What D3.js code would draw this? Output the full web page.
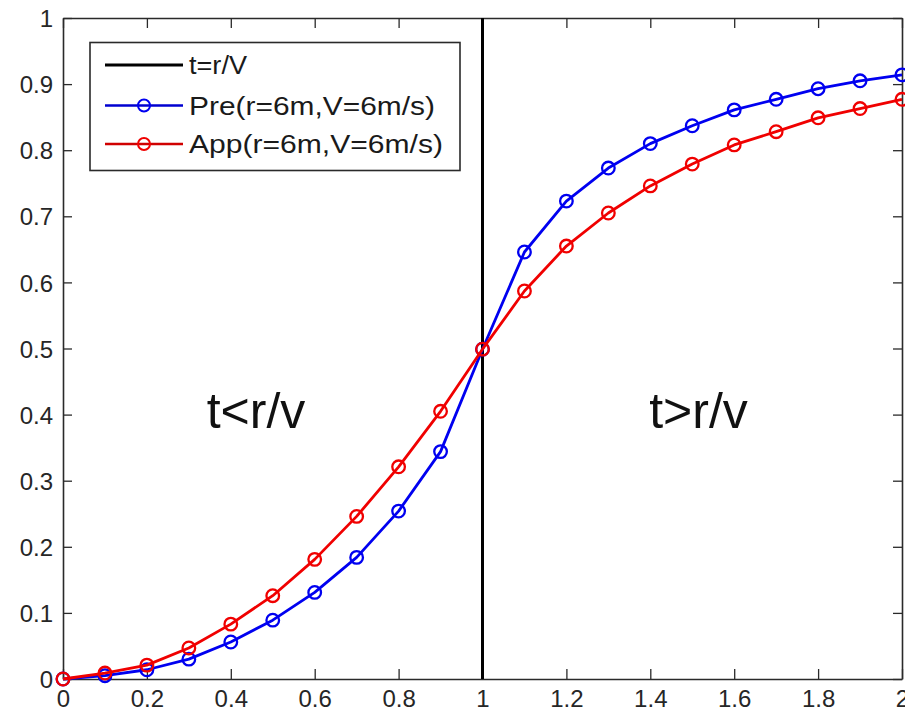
<!DOCTYPE html>
<html><head><meta charset="utf-8">
<script src="https://cdn.jsdelivr.net/npm/d3@7"></script>
<style>body{margin:0;background:#fff}svg{display:block}</style>
</head><body>
<svg id="c" width="905" height="714"></svg>
<script>
const tValues = [0,0.1,0.2,0.3,0.4,0.5,0.6,0.7,0.8,0.9,1.0,1.1,1.2,1.3,1.4,1.5,1.6,1.7,1.8,1.9,2.0];
const preValues = [0,0.005,0.014,0.030,0.056,0.089,0.131,0.184,0.254,0.344,0.499,0.646,0.723,0.773,0.810,0.837,0.861,0.877,0.893,0.905,0.914];
const appValues = [0,0.009,0.021,0.047,0.083,0.126,0.181,0.246,0.321,0.405,0.499,0.587,0.655,0.705,0.746,0.779,0.808,0.828,0.849,0.863,0.877];
const xTicks = [0,0.2,0.4,0.6,0.8,1,1.2,1.4,1.6,1.8,2];
const yTicks = [0,0.1,0.2,0.3,0.4,0.5,0.6,0.7,0.8,0.9,1];
const vLineX = 1;
const legendLabels = ["t=r/V","Pre(r=6m,V=6m/s)","App(r=6m,V=6m/s)"];
const regionLabels = [{t:0.46, v:0.4, text:"t<r/v"},{t:1.515, v:0.4, text:"t>r/v"}];

const svg = d3.select("#c");
const x = d3.scaleLinear().domain([0,2]).range([63,902]);
const y = d3.scaleLinear().domain([0,1]).range([679,18]);
const font = "'Liberation Sans', Arial, Helvetica, sans-serif";
const axisColor = "#2a2a2a";

// axes
const gx = svg.append("g").attr("transform","translate(0,679)")
  .call(d3.axisBottom(x).tickValues(xTicks).tickFormat(d3.format("")).tickSizeInner(-10).tickSizeOuter(0).tickPadding(11));
const gxt = svg.append("g").attr("transform","translate(0,18)")
  .call(d3.axisTop(x).tickValues(xTicks).tickFormat("").tickSizeInner(-10).tickSizeOuter(0));
const gy = svg.append("g").attr("transform","translate(63,0)")
  .call(d3.axisLeft(y).tickValues(yTicks).tickFormat(d3.format("")).tickSizeInner(-9).tickSizeOuter(0).tickPadding(10));
const gyr = svg.append("g").attr("transform","translate(902,0)")
  .call(d3.axisRight(y).tickValues(yTicks).tickFormat("").tickSizeInner(-9).tickSizeOuter(0));
[gx,gxt,gy,gyr].forEach(g=>{
  g.selectAll(".domain").attr("stroke",axisColor).attr("stroke-width",1.6);
  g.selectAll(".tick line").attr("stroke",axisColor).attr("stroke-width",1.3);
  g.selectAll("text").attr("font-family",font).attr("font-size",24).attr("fill","#262626");
});
gy.selectAll("text").attr("dy","0.36em");

// vertical line t = r/V
svg.append("line").attr("x1",x(vLineX)).attr("x2",x(vLineX)).attr("y1",y(1)).attr("y2",y(0))
  .attr("stroke","#000").attr("stroke-width",3);

const series = [
  {vals:preValues, color:"#0000f0"},
  {vals:appValues, color:"#f00000"}
];
const line = d3.line().x(d=>x(d[0])).y(d=>y(d[1]));
series.forEach(s=>{
  const pts = tValues.map((t,i)=>[t,s.vals[i]]);
  svg.append("path").datum(pts).attr("d",line).attr("fill","none")
    .attr("stroke",s.color).attr("stroke-width",2.8).attr("stroke-linejoin","round");
  svg.append("g").selectAll("circle").data(pts).join("circle")
    .attr("cx",d=>x(d[0])).attr("cy",d=>y(d[1])).attr("r",6.3)
    .attr("fill","none").attr("stroke",s.color).attr("stroke-width",2.3);
});

// region labels
regionLabels.forEach(r=>{
  svg.append("text").attr("x",x(r.t)).attr("y",y(r.v)+13).attr("text-anchor","middle")
    .attr("font-family",font).attr("font-size",50).attr("fill","#111").text(r.text);
});

// legend
const lg = svg.append("g");
lg.append("rect").attr("x",90).attr("y",42.5).attr("width",370).attr("height",128)
  .attr("fill","#fff").attr("stroke",axisColor).attr("stroke-width",1.6);
const rowsY = [65,105.5,144];
const legColors = ["#000","#0000d0","#d00000"];
const legWidths = [58,246,254];
legendLabels.forEach((lab,i)=>{
  lg.append("line").attr("x1",105).attr("x2",183).attr("y1",rowsY[i]).attr("y2",rowsY[i])
    .attr("stroke",legColors[i]).attr("stroke-width",i===0?3:2.5);
  if(i>0) lg.append("circle").attr("cx",144).attr("cy",rowsY[i]).attr("r",6)
    .attr("fill","none").attr("stroke",i===1?"#0000f0":"#f00000").attr("stroke-width",2);
  lg.append("text").attr("x",189).attr("y",rowsY[i]+9).attr("font-family",font).attr("font-size",25)
    .attr("fill","#1a1a1a").attr("textLength",legWidths[i]).attr("lengthAdjust","spacingAndGlyphs").text(lab);
});
</script>
</body></html>
